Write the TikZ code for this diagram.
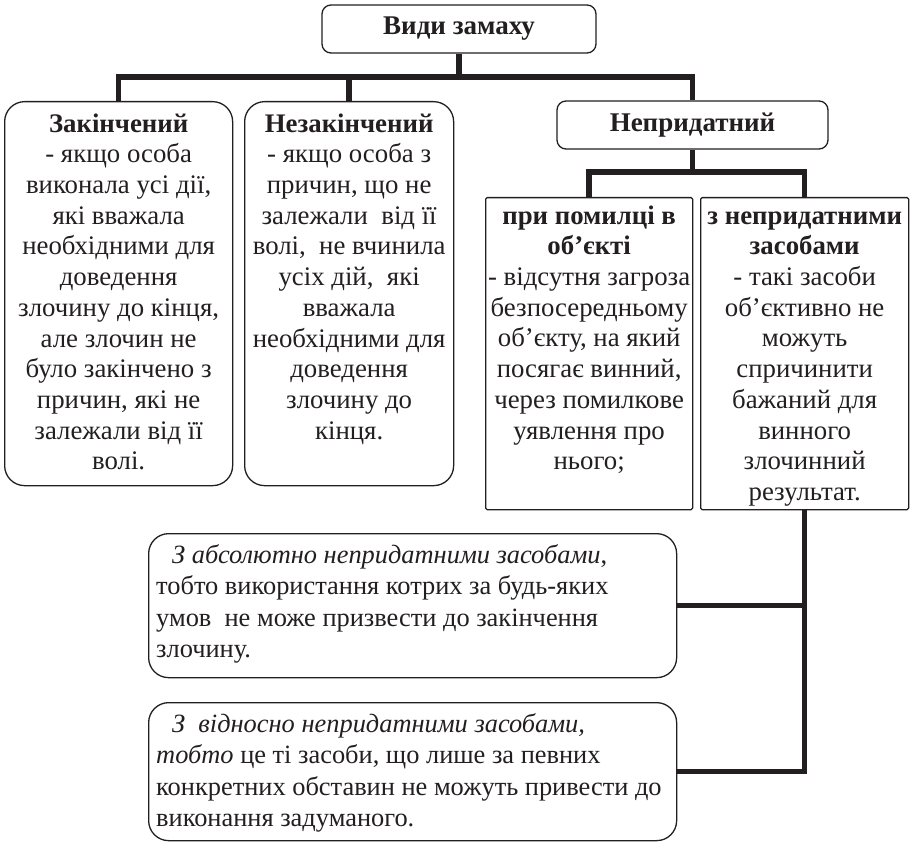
\documentclass[tikz,border=0pt]{standalone}
\usepackage{fontspec}
\setmainfont{Liberation Serif}
\definecolor{inkc}{RGB}{35,31,32}
\begin{document}
\begin{tikzpicture}[x=1pt,y=-1pt,
  boxline/.style={draw=inkc, line width=1.3pt, inner sep=0pt, fill=white},
  hbox/.style={boxline, rounded corners=9pt, font=\fontsize{27}{30.7}\selectfont\bfseries, text=inkc},
  bigbox/.style={boxline, rounded corners=20pt},
  sqbox/.style={boxline, rounded corners=1.5pt},
  txt/.style={inner sep=0pt, align=center, text=inkc, font=\fontsize{26.8}{30.7}\selectfont},
  ltxt/.style={inner sep=0pt, align=left, text=inkc, font=\fontsize{26.4}{31.5}\selectfont},
  conn/.style={draw=inkc, line width=5.5pt, line join=miter, line cap=butt}]
\useasboundingbox (0,0) rectangle (913,842);

% boxes
\node[hbox, minimum width=274pt, minimum height=48pt] (top) at (459,29) {Види замаху};
\node[bigbox, anchor=north west, minimum width=228pt, minimum height=384pt] (zak) at (4,101) {};
\node[bigbox, anchor=north west, minimum width=209pt, minimum height=384pt] (nezak) at (244,101) {};
\node[hbox, minimum width=271pt, minimum height=48pt] (nep) at (692.5,125) {Непридатний};
\node[sqbox, anchor=north west, minimum width=207pt, minimum height=312pt] (pom) at (485,197) {};
\node[sqbox, anchor=north west, minimum width=208pt, minimum height=312pt] (zas) at (700,197) {};
\node[bigbox, anchor=north west, minimum width=528pt, minimum height=144pt] (abs) at (148,533) {};
\node[bigbox, anchor=north west, minimum width=528pt, minimum height=138pt] (rel) at (148,702) {};

% texts
\node[txt, anchor=north] (zakt) at ([yshift=-9.5pt]zak.north) {\strut\textbf{Закінчений}\\
- якщо особа\\
виконала усі дії,\\
які вважала\\
необхідними для\\
доведення\\
злочину до кінця,\\
але злочин не\\
було закінчено з\\
причин, які не\\
залежали від її\\
волі.};
\node[txt, anchor=north] (nezakt) at ([yshift=-9.5pt]nezak.north) {\strut\textbf{Незакінчений}\\
- якщо особа з\\
причин, що не\\
залежали~ від її\\
волі,~ не вчинила\\
усіх дій,~ які\\
вважала\\
необхідними для\\
доведення\\
злочину до\\
кінця.};
\node[txt, anchor=north] (pomt) at ([yshift=-5.5pt]pom.north) {\strut\textbf{при помилці в}\\
\textbf{об’єкті}\\
- відсутня загроза\\
безпосередньому\\
об’єкту, на який\\
посягає винний,\\
через помилкове\\
уявлення про\\
нього;};
\node[txt, anchor=north] (zast) at ([yshift=-5.5pt]zas.north) {\strut\textbf{з непридатними}\\
\textbf{засобами}\\
- такі засоби\\
об’єктивно не\\
можуть\\
спричинити\\
бажаний для\\
винного\\
злочинний\\
результат.};
\node[ltxt, anchor=north west] (abst) at ([xshift=8pt,yshift=-8pt]abs.north west) {\strut\hspace*{16pt}\textit{З абсолютно непридатними засобами},\\
тобто використання котрих за будь-яких\\
умов~ не може призвести до закінчення\\
злочину.};
\node[ltxt, anchor=north west] (relt) at ([xshift=8pt,yshift=-8pt]rel.north west) {\strut\hspace*{16pt}\textit{З~ відносно непридатними засобами,}\\
\textit{тобто} це ті засоби, що лише за певних\\
конкретних обставин не можуть привести до\\
виконання задуманого.};

% connectors
\coordinate (bar1) at (459,77);
\coordinate (bar2) at (692.5,172);
\draw[conn] (top.south) -- (bar1);
\draw[conn] (zak.north) |- (bar1) -| (nep.north);
\draw[conn] (nezak.north) -- (nezak.north |- bar1);
\draw[conn] (nep.south) -- (bar2);
\draw[conn] (pom.north) |- (bar2) -| (zas.north);
\draw[conn] (zas.south) |- (rel.east);
\draw[conn] (abs.east) -- (abs.east -| zas.south);
\end{tikzpicture}
\end{document}
